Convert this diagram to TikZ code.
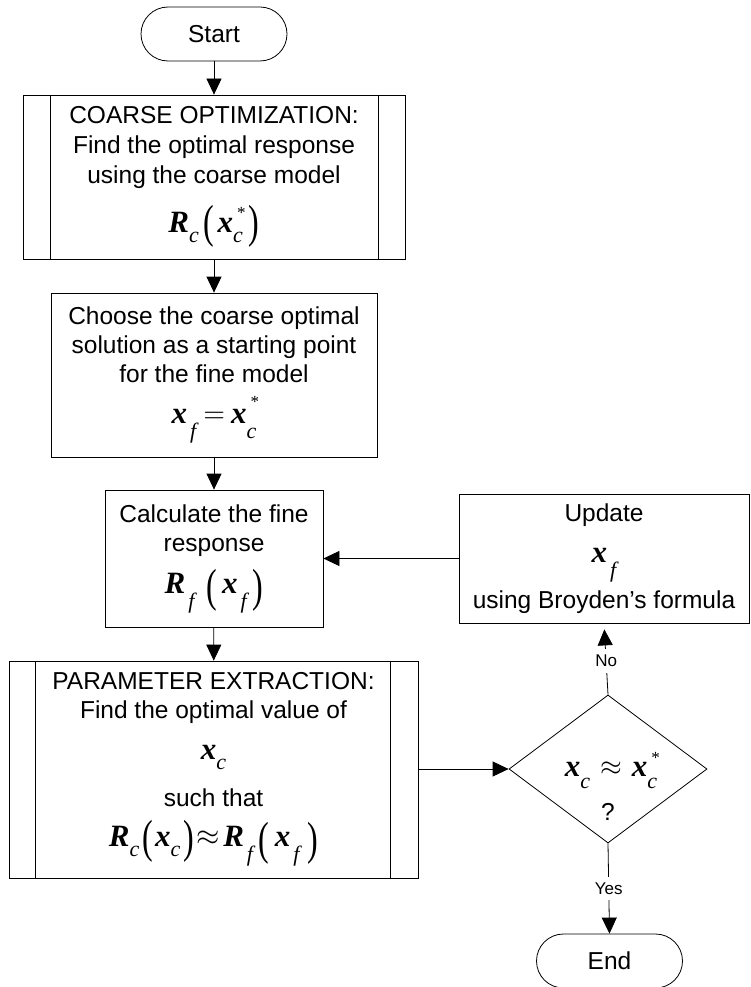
\documentclass[tikz,border=0pt]{standalone}
\usepackage{graphicx}
\usepackage{fontspec}
\setmainfont{Liberation Sans}
\newfontfamily\tms{Liberation Serif}
\usetikzlibrary{arrows.meta,shapes.geometric}

% body text: fixed baseline distance, extra space set per line with \\[..]
\newcommand\bodyfont{\fontsize{24.5}{29}\selectfont\lineskiplimit=-100pt\relax}
% formula pieces: bold italic variables, italic subscripts, tall parentheses
\newcommand\bv[1]{{\fontsize{31}{31}\selectfont\tms\bfseries\itshape #1}}
\newcommand\sbc[2][-10pt]{\raisebox{#1}{\fontsize{22}{22}\selectfont\tms\itshape #2}}
\newcommand\sbf{\hspace{3pt}\sbc[-15pt]{f}}
\newcommand\sbstar[3][-10pt]{\rlap{\kern4pt\raisebox{#2}{\fontsize{17}{17}\selectfont\tms *}}\sbc[#1]{#3}}
\newcommand\prL[1][-5.5pt]{\raisebox{#1}{\scalebox{1}[1.45]{\fontsize{32}{32}\selectfont\tms (}}}
\newcommand\prR[1][-5.5pt]{\raisebox{#1}{\scalebox{1}[1.45]{\fontsize{32}{32}\selectfont\tms )}}}
% relation symbols, scaled from a 10pt setting
\newcommand\relsym[2][2.8]{\raisebox{1pt}{\scalebox{#1}{\fontsize{10}{10}\selectfont$#2$}}}

\begin{document}
\begin{tikzpicture}[x=1pt,y=-1pt,
  every node/.style={font=\bodyfont},
  terminal/.style={draw, line width=0.8pt, rounded corners=27pt,
    minimum width=146pt, minimum height=54pt, inner sep=0pt},
  procbox/.style={draw, line width=0.8pt, align=center, inner sep=0pt},
  arr/.style={line width=0.8pt, -{Triangle[length=16pt,width=15pt]}},
  lbl/.style={fill=white, inner sep=6pt, font=\fontsize{17}{17}\selectfont}]

\useasboundingbox (0,0) rectangle (751,987);

% main column
\node[terminal] (start) at (214,34) {Start};

\node[procbox, minimum width=382pt, minimum height=164pt] (coarse) at (214,177)
  {COARSE OPTIMIZATION:\\[1pt] Find the optimal response\\[1pt] using the coarse model\\[20pt]
   \bv{R}\sbc{c}\hspace{5pt}\prL\hspace{3pt}\bv{x}\sbstar{14pt}{c}\hspace{6pt}\prR};
\draw[line width=0.8pt] ([xshift=28pt]coarse.north west) -- ([xshift=28pt]coarse.south west);
\draw[line width=0.8pt] ([xshift=-27pt]coarse.north east) -- ([xshift=-27pt]coarse.south east);

\node[procbox, minimum width=326pt, minimum height=164pt] (choose) at (214,375)
  {Choose the coarse optimal\\ solution as a starting point\\ for the fine model\\[12pt]
   \bv{x}\sbf\hspace{7pt}\relsym{=}\hspace{6pt}\bv{x}\sbstar[-15pt]{16pt}{c}};

\node[procbox, minimum width=218pt, minimum height=137pt] (fine) at (214,558.5)
  {Calculate the fine\\ response\\[13pt]
   \bv{R}\sbf\hspace{12pt}\prL[-8pt]\hspace{5pt}\bv{x}\sbf\hspace{6pt}\prR[-8pt]};

\node[procbox, minimum width=409pt, minimum height=217pt] (extract) at (213.5,769.5)
  {PARAMETER EXTRACTION:\\ Find the optimal value of\\[12pt]
   \bv{x}\sbc{c}\\[18pt]
   such that\\[11pt]
   \bv{R}\sbc{c}\hspace{3pt}\prL\hspace{2pt}\bv{x}\sbc{c}\hspace{3pt}\prR\hspace{3pt}\relsym[3]{\approx}\hspace{3pt}\bv{R}\sbf\hspace{5pt}\prL[-8pt]\hspace{6pt}\bv{x}\sbf\hspace{8pt}\prR[-8pt]};
\draw[line width=0.8pt] ([xshift=27pt]extract.north west) -- ([xshift=27pt]extract.south west);
\draw[line width=0.8pt] ([xshift=-28pt]extract.north east) -- ([xshift=-28pt]extract.south east);

% loop column
\node[procbox, minimum width=290pt, minimum height=129pt] (update) at (604,558.5)
  {Update\\[12pt] \bv{x}\sbf\\[17pt] using Broyden’s formula};

\node[draw, diamond, line width=0.8pt, minimum width=198pt, minimum height=148pt,
  inner sep=0pt] (test) at (608,769) {};
\node[anchor=base] (testeq) at (611,776)
  {\bv{x}\sbc[-12pt]{c}\hspace{10pt}\relsym{\approx}\hspace{10pt}\bv{x}\sbstar[-12pt]{13pt}{c}};
\node[anchor=base] (testq) at (608,820) {?};

\node[terminal] (end) at (609.5,961) {End};

% connectors
\draw[arr] (start) -- (coarse);
\draw[arr] (coarse) -- (choose);
\draw[arr] (choose) -- (fine);
\draw[arr] (fine) -- (extract);
\draw[arr] (update.west) -- (fine.east);
\draw[arr] (extract.east |- test.west) -- (test.west);
\draw[arr, shorten >=6pt] (test.north) -- node[lbl, pos=0.47] {No} (update.south);
\draw[arr] (test.south) -- node[lbl] {Yes} (end.north);
\end{tikzpicture}
\end{document}
